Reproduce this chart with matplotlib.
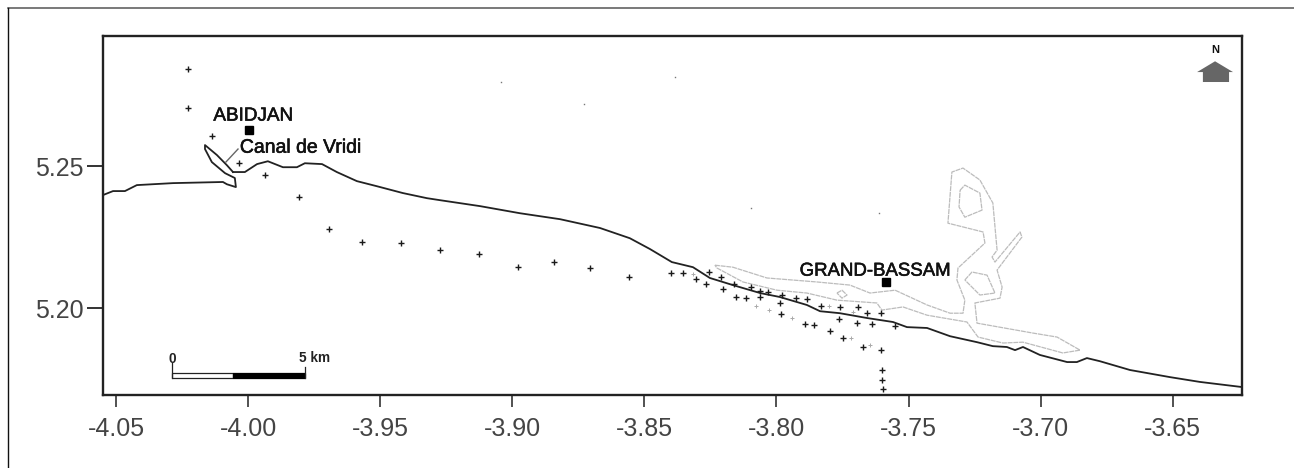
#!/usr/bin/env python
import matplotlib
matplotlib.use("Agg")
from matplotlib import pyplot as plt
from matplotlib import patheffects
from matplotlib.lines import Line2D
from matplotlib.patches import Rectangle, Polygon

plt.rcParams["font.family"] = ["Liberation Sans", "DejaVu Sans"]

#sampling stations
station_lon = [-4.0227, -4.0227, -4.0137, -4.0034, -3.9936, -3.9807, -3.9694, -3.9569, -3.9421, -3.9274,
               -3.9126, -3.8978, -3.8842, -3.8706, -3.8558, -3.8399, -3.8354, -3.8305, -3.8255, -3.8267,
               -3.8210, -3.8203, -3.8161, -3.8153, -3.8115, -3.8097, -3.8062, -3.8062, -3.8032, -3.7979,
               -3.7987, -3.7983, -3.7926, -3.7885, -3.7892, -3.7858, -3.7832, -3.7798, -3.7760, -3.7763,
               -3.7748, -3.7692, -3.7657, -3.7695, -3.7673, -3.7639, -3.7604, -3.7604, -3.7551, -3.7601,
               -3.7601, -3.7597]
station_lat = [5.2841, 5.2704, 5.2605, 5.2510, 5.2468, 5.2391, 5.2278, 5.2232, 5.2229, 5.2204,
               5.2190, 5.2144, 5.2162, 5.2141, 5.2109, 5.2123, 5.2123, 5.2102, 5.2127, 5.2084,
               5.2109, 5.2067, 5.2084, 5.2039, 5.2035, 5.2074, 5.2060, 5.2039, 5.2056, 5.2046,
               5.2018, 5.1979, 5.2035, 5.2032, 5.1944, 5.1940, 5.2007, 5.1919, 5.2004, 5.1961,
               5.1894, 5.2004, 5.1982, 5.1947, 5.1863, 5.1944, 5.1982, 5.1852, 5.1937, 5.1782,
               5.1747, 5.1715]

#the washed out ones
faint_lon = [-3.8078, -3.8028, -3.7941, -3.7718, -3.7646, -3.7711, -3.7801, -3.8316]
faint_lat = [5.2007, 5.1993, 5.1965, 5.1894, 5.1870, 5.1986, 5.2007, 5.2120]

#specks from the scan
speck_lon = [-3.9043, -3.8729, -3.8384, -3.8097, -3.7612]
speck_lat = [5.2796, 5.2718, 5.2813, 5.2352, 5.2334]

#coast west of the canal, round the canal tip
west_lon = [-4.0549, -4.0511, -4.0466, -4.0421, -4.0284, -4.0095, -4.0080, -4.0046, -4.0050, -4.0087,
            -4.0137, -4.0163, -4.0163, -4.0118, -4.0080, -4.0057]
west_lat = [5.2398, 5.2412, 5.2412, 5.2433, 5.2440, 5.2444, 5.2436, 5.2426, 5.2458, 5.2475,
            5.2514, 5.2560, 5.2574, 5.2539, 5.2503, 5.2479]

#coast east of the canal
coast_lon = [-4.0057, -4.0012, -3.9966, -3.9925, -3.9868, -3.9815, -3.9785, -3.9720, -3.9664, -3.9588,
             -3.9512, -3.9414, -3.9323, -3.9274, -3.9122, -3.8971, -3.8819, -3.8668, -3.8555, -3.8479,
             -3.8396, -3.8316, -3.8252, -3.8165, -3.8062, -3.7987, -3.7885, -3.7835, -3.7760, -3.7657,
             -3.7559, -3.7506, -3.7430, -3.7343, -3.7241, -3.7181, -3.7128, -3.7097, -3.7067, -3.7003,
             -3.6900, -3.6863, -3.6825, -3.6776, -3.6662, -3.6511, -3.6397, -3.6238]
coast_lat = [5.2479, 5.2479, 5.2507, 5.2517, 5.2496, 5.2496, 5.2510, 5.2507, 5.2479, 5.2447,
             5.2429, 5.2405, 5.2387, 5.2380, 5.2359, 5.2334, 5.2313, 5.2282, 5.2246, 5.2208,
             5.2162, 5.2144, 5.2106, 5.2081, 5.2053, 5.2039, 5.2011, 5.1989, 5.1982, 5.1965,
             5.1951, 5.1933, 5.1930, 5.1901, 5.1880, 5.1866, 5.1863, 5.1852, 5.1863, 5.1835,
             5.1810, 5.1810, 5.1824, 5.1813, 5.1782, 5.1757, 5.1740, 5.1722]

#lagoon outline
lagoon_lon = [-3.8233, -3.8165, -3.8036, -3.7847, -3.7722, -3.7646, -3.7551, -3.7430, -3.7343, -3.7294,
              -3.7287, -3.7317, -3.7313, -3.7211, -3.7218, -3.7351, -3.7336, -3.7294, -3.7230, -3.7181,
              -3.7165, -3.7184, -3.7173, -3.7078, -3.7071, -3.7165, -3.7146, -3.7154, -3.7249, -3.7241,
              -3.7029, -3.6938, -3.6851, -3.6916, -3.7067, -3.7143, -3.7237, -3.7279, -3.7430, -3.7521,
              -3.7601, -3.7620, -3.7771, -3.7885, -3.7998, -3.8127, -3.8225, -3.8233]
lagoon_lat = [5.2151, 5.2144, 5.2106, 5.2092, 5.2081, 5.2053, 5.2063, 5.2011, 5.1982, 5.1982,
              5.2028, 5.2099, 5.2141, 5.2229, 5.2268, 5.2299, 5.2479, 5.2493, 5.2451, 5.2370,
              5.2204, 5.2180, 5.2162, 5.2268, 5.2250, 5.2134, 5.2074, 5.2035, 5.2018, 5.1947,
              5.1912, 5.1898, 5.1852, 5.1842, 5.1880, 5.1877, 5.1898, 5.1951, 5.1975, 5.2004,
              5.1993, 5.2018, 5.2028, 5.2053, 5.2063, 5.2092, 5.2141, 5.2151]

#islands inside the lagoon
ring_lon = [-3.7305, -3.7287, -3.7230, -3.7222, -3.7287, -3.7309, -3.7305]
ring_lat = [5.2415, 5.2433, 5.2405, 5.2345, 5.2320, 5.2356, 5.2415]
island_lon = [-3.7287, -3.7260, -3.7203, -3.7173, -3.7230, -3.7287]
island_lat = [5.2099, 5.2127, 5.2116, 5.2053, 5.2046, 5.2099]
islet_lon = [-3.7771, -3.7752, -3.7733, -3.7752, -3.7771]
islet_lat = [5.2053, 5.2063, 5.2046, 5.2035, 5.2053]

x_ticks = [-4.05, -4.00, -3.95, -3.90, -3.85, -3.80, -3.75, -3.70, -3.65]
y_ticks = [5.20, 5.25]

fig = plt.figure(figsize = (12.94, 4.68), dpi = 100)
ax = fig.add_axes([103 / 1294, 1 - 395 / 468, 1139 / 1294, 359 / 468])
ax.set_xlim(-4.0549, -3.6238)
ax.set_ylim(5.1694, 5.2958)

#the scan only has a top and a left edge
fig.add_artist(Line2D([8 / 1294, 1], [1 - 8 / 468, 1 - 8 / 468], color = "#555555", linewidth = 1.1))
fig.add_artist(Line2D([8 / 1294, 8 / 1294], [0, 1 - 8 / 468], color = "#111111", linewidth = 1.0))

#lagoon first so the coast sits on top
for lon, lat in [(lagoon_lon, lagoon_lat), (ring_lon, ring_lat), (island_lon, island_lat), (islet_lon, islet_lat)]:
    ax.plot(lon, lat, color = "#bcbcbc", linewidth = 0.9, linestyle = (0, (4, 0.6)))

ax.plot(west_lon, west_lat, color = "#222222", linewidth = 1.3)
ax.plot(coast_lon, coast_lat, color = "#222222", linewidth = 1.3)
ax.plot([-4.0084, -4.0038], [5.2514, 5.2560], color = "#666666", linewidth = 1.0)

ax.plot(station_lon, station_lat, "+", color = "#1a1a1a", markersize = 5, markeredgewidth = 1.0)
ax.plot(faint_lon, faint_lat, "+", color = "#aaaaaa", markersize = 3.5, markeredgewidth = 0.7)
ax.plot(speck_lon, speck_lat, "s", color = "#777777", markersize = 1, markeredgewidth = 0)

#towns, a hair of stroke because the scanned lettering is heavy
heavy = [patheffects.withStroke(linewidth = 0.4, foreground = "#111111")]
ax.plot([-3.9997, -3.7586], [5.2627, 5.2092], "s", color = "black", markersize = 5.5)
ax.text(-3.9981, 5.2676, "ABIDJAN", fontsize = 13.6, ha = "center", va = "center", color = "#111111", path_effects = heavy)
ax.text(-4.0031, 5.2563, "Canal de Vridi", fontsize = 14, ha = "left", va = "center", color = "#111111", path_effects = heavy)
ax.text(-3.7627, 5.2130, "GRAND-BASSAM", fontsize = 13.4, ha = "center", va = "center", color = "#111111", path_effects = heavy)

#scale bar
ax.add_patch(Rectangle((-4.0288, 5.1754), 0.0231, 0.0017, facecolor = "white", edgecolor = "#222222", linewidth = 0.9))
ax.add_patch(Rectangle((-4.0057, 5.1754), 0.0272, 0.0017, facecolor = "black", edgecolor = "black", linewidth = 0.9))
ax.plot([-4.0288, -4.0288], [5.1754, 5.1806], color = "#222222", linewidth = 0.9)
ax.plot([-3.9785, -3.9785], [5.1754, 5.1792], color = "#222222", linewidth = 0.9)
ax.text(-4.0288, 5.1820, "0", fontsize = 9.8, fontweight = "bold", ha = "center", va = "center", color = "#222222")
ax.text(-3.9747, 5.1824, "5 km", fontsize = 9.8, fontweight = "bold", ha = "center", va = "center", color = "#222222")

#north arrow
ax.add_patch(Polygon([(-3.6340, 5.2869), (-3.6272, 5.2831), (-3.6287, 5.2831), (-3.6287, 5.2796),
                      (-3.6386, 5.2796), (-3.6386, 5.2831), (-3.6408, 5.2831)],
                     facecolor = "#666666", edgecolor = "none"))
ax.text(-3.6340, 5.2908, "N", fontsize = 8, fontweight = "bold", ha = "center", va = "center", color = "#111111")

ax.set_xticks(x_ticks)
ax.set_xticklabels(["%.2f" % t for t in x_ticks])
ax.set_yticks(y_ticks)
ax.set_yticklabels(["%.2f" % t for t in y_ticks])
ax.tick_params(axis = "x", direction = "out", length = 8.6, width = 1.2, color = "#333333",
               labelsize = 18, labelcolor = "#444444", pad = 7)
ax.tick_params(axis = "y", direction = "out", length = 11.5, width = 1.2, color = "#111111",
               labelsize = 18, labelcolor = "#444444", pad = 2.5)
for side in ax.spines.values():
    side.set_linewidth(1.7)
    side.set_color("#222222")

fig.savefig("out.png", dpi = 100)
